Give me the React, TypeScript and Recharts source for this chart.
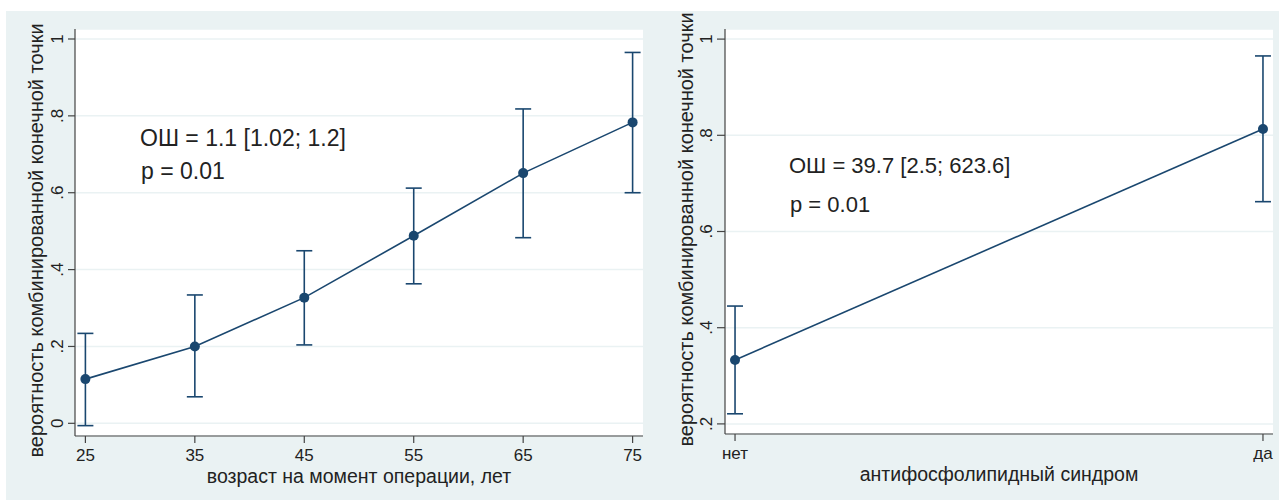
import React from "react";
import {
  ComposedChart,
  Line,
  XAxis,
  YAxis,
  CartesianGrid,
  ErrorBar,
} from "recharts";

// left panel: age at surgery
const ages = [25, 35, 45, 55, 65, 75];
const ageProb = [0.115, 0.2, 0.327, 0.488, 0.651, 0.783];
const ageLow = [-0.006, 0.069, 0.204, 0.363, 0.483, 0.6];
const ageHigh = [0.234, 0.334, 0.449, 0.612, 0.818, 0.965];
const ageYTicks = [0, 0.2, 0.4, 0.6, 0.8, 1];

// right panel: antiphospholipid syndrome
const apsLabels = ["нет", "да"];
const apsProb = [0.333, 0.813];
const apsLow = [0.221, 0.662];
const apsHigh = [0.445, 0.965];
const apsYTicks = [0.2, 0.4, 0.6, 0.8, 1];

const yTitle = "вероятность комбинированной конечной точки";
const NAVY = "#1a476f";
const BG = "#eaf2f3";
const AXIS = "#444";
const FONT = "'Liberation Sans', Arial, sans-serif";

const ageData = ages.map((a, i) => ({
  x: a,
  p: ageProb[i],
  err: [ageProb[i] - ageLow[i], ageHigh[i] - ageProb[i]],
}));

const apsData = apsLabels.map((l, i) => ({
  x: i,
  p: apsProb[i],
  err: [apsProb[i] - apsLow[i], apsHigh[i] - apsProb[i]],
}));

const fmtY = (v: number) =>
  v === 0 ? "0" : v === 1 ? "1" : String(Number(v.toFixed(1))).replace("0.", ".");

const YTick = (props: any) => {
  const { x, y, payload } = props;
  return (
    <text
      x={x}
      y={y}
      transform={`rotate(-90, ${x}, ${y})`}
      textAnchor="middle"
      fontSize={17}
      fill="#222"
      fontFamily={FONT}
    >
      {fmtY(payload.value)}
    </text>
  );
};

const yTitleLabel = (shift: number) => (props: any) => {
  const vb = props.viewBox;
  const x = vb.x + vb.width - 32;
  const y = vb.y + vb.height / 2 + shift;
  return (
    <text
      x={x}
      y={y}
      transform={`rotate(-90, ${x}, ${y})`}
      textAnchor="middle"
      fontSize={20}
      fill="#222"
      fontFamily={FONT}
    >
      {yTitle}
    </text>
  );
};

const xTitleLabel = (text: string) => (props: any) => {
  const vb = props.viewBox;
  return (
    <text
      x={vb.x + vb.width / 2}
      y={vb.y + 47}
      textAnchor="middle"
      fontSize={19.5}
      fill="#222"
      fontFamily={FONT}
    >
      {text}
    </text>
  );
};

const tickStyle = { fontSize: 17, fill: "#222", fontFamily: FONT };

export default function App() {
  return (
    <div
      style={{
        position: "absolute",
        left: 0,
        top: 0,
        width: 1279,
        height: 500,
        background: "#fff",
        overflow: "hidden",
      }}
    >
      <div
        style={{
          position: "absolute",
          left: 6,
          top: 11,
          width: 1273,
          height: 489,
          background: BG,
        }}
      />
      <div style={{ position: "absolute", left: 0, top: 0 }}>
        <ComposedChart
          width={650}
          height={500}
          data={ageData}
          margin={{ top: 29, right: 7, bottom: 14, left: 7 }}
        >
          <CartesianGrid vertical={false} stroke={BG} strokeWidth={1.5} fill="#fff" />
          <XAxis
            dataKey="x"
            type="number"
            domain={[24.05, 75.95]}
            ticks={ages}
            allowDataOverflow
            height={50}
            tickSize={7}
            tickMargin={6}
            tick={tickStyle}
            stroke={AXIS}
            strokeWidth={1.2}
            label={xTitleLabel("возраст на момент операции, лет")}
          />
          <YAxis
            type="number"
            domain={[-0.033, 1.026]}
            ticks={ageYTicks}
            allowDataOverflow
            width={68}
            tickSize={7}
            tickMargin={5}
            tick={<YTick />}
            stroke={AXIS}
            strokeWidth={1.2}
            label={yTitleLabel(8)}
          />
          <Line
            dataKey="p"
            stroke={NAVY}
            strokeWidth={1.6}
            dot={{ r: 5, fill: NAVY, stroke: NAVY, strokeWidth: 0 }}
            activeDot={false}
            isAnimationActive={false}
          >
            <ErrorBar dataKey="err" width={8} stroke={NAVY} strokeWidth={1.6} />
          </Line>
          <text x={140} y={146} fontSize={23} fill="#222" fontFamily={FONT}>
            ОШ = 1.1 [1.02; 1.2]
          </text>
          <text x={141} y={179} fontSize={23} fill="#222" fontFamily={FONT}>
            p = 0.01
          </text>
        </ComposedChart>
      </div>
      <div style={{ position: "absolute", left: 650, top: 0 }}>
        <ComposedChart
          width={629}
          height={500}
          data={apsData}
          margin={{ top: 29, right: 6, bottom: 16, left: 0 }}
        >
          <CartesianGrid vertical={false} stroke={BG} strokeWidth={1.5} fill="#fff" />
          <XAxis
            dataKey="x"
            type="number"
            domain={[-0.019, 1.019]}
            ticks={[0, 1]}
            allowDataOverflow
            tickFormatter={(v: number) => apsLabels[v]}
            height={50}
            tickSize={7}
            tickMargin={6}
            tick={tickStyle}
            stroke={AXIS}
            strokeWidth={1.2}
            label={xTitleLabel("антифосфолипидный синдром")}
          />
          <YAxis
            type="number"
            domain={[0.179, 1.021]}
            ticks={apsYTicks}
            allowDataOverflow
            width={75}
            tickSize={8}
            tickMargin={5}
            tick={<YTick />}
            stroke={AXIS}
            strokeWidth={1.2}
            label={yTitleLabel(-2)}
          />
          <Line
            dataKey="p"
            stroke={NAVY}
            strokeWidth={1.6}
            dot={{ r: 5, fill: NAVY, stroke: NAVY, strokeWidth: 0 }}
            activeDot={false}
            isAnimationActive={false}
          >
            <ErrorBar dataKey="err" width={8} stroke={NAVY} strokeWidth={1.6} />
          </Line>
          <text x={139} y={173} fontSize={22} fill="#222" fontFamily={FONT}>
            ОШ = 39.7 [2.5; 623.6]
          </text>
          <text x={140} y={212} fontSize={22} fill="#222" fontFamily={FONT}>
            p = 0.01
          </text>
        </ComposedChart>
      </div>
    </div>
  );
}
